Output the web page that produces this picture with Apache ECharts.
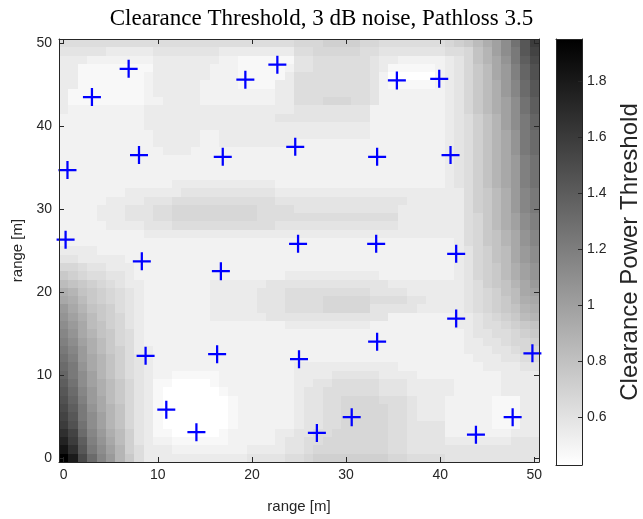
<!DOCTYPE html>
<html><head><meta charset="utf-8">
<script src="https://cdn.jsdelivr.net/npm/echarts@6/dist/echarts.min.js"></script>
<style>html,body{margin:0;padding:0;background:#fff}#c{width:643px;height:519px}</style>
</head><body><div id="c"></div>
<script>
const chartTitle = 'Clearance Threshold, 3 dB noise, Pathloss 3.5';
const xLabel = 'range [m]';
const yLabel = 'range [m]';
const cbLabel = 'Clearance Power Threshold';
const xTicks = [0, 10, 20, 30, 40, 50];
const yTicks = [0, 10, 20, 30, 40, 50];
const cbTicks = [0.6, 0.8, 1, 1.2, 1.4, 1.6, 1.8];
const cbMin = 0.43, cbMax = 1.95;
// each char is a threshold level: value = levelBase + index * levelStep
const levelChars = '0123456789abcdefghijklmnopqrstuvwxyzABC';
const levelBase = 0.43, levelStep = 0.04;
// rows from y = 50 (top) down to y = 0; cells x = 0..50 ("c:n" = n cells of level c)
const gridRows = [
  "5:25 6:3 7:4 6:2 5:7 678acehlpt",
  "4:5 3:5 4:7 3:8 5:2 6:5 5:2 4:7 5569behkps",
  "3:3 2:7 3:7 2:2 1:6 4:2 5:6 4 3:2 2:5 3469bdgkor",
  "3:2 1:8 3:6 2:3 1:5 2 4:2 5:6 4 3 1:5 2 3468adfjnq",
  "3:2 1:7 2 3:6 2:3 1:5 3 5:8 4 2 0:5 2 3468adfjnq",
  "3:2 1:7 2 3:5 2:4 1:4 3:2 5:8 4 2 1:5 2 3468acfimp",
  "3 1:8 2 3:5 2:8 3:2 5:8 4 2:7 3468acfimp",
  "3 1:8 2:2 3:4 2:8 3:2 5:3 6:3 5:2 4 2:7 3468acehlo",
  "3 2:8 3:16 4:8 2:8 3468acehlo",
  "2:9 3:14 4:10 2:8 34579behkn",
  "2:9 3:24 2:8 34579behkn",
  "2:10 3:5 2:2 3:16 2:8 34579bdgkm",
  "2:10 3:5 2:2 3:8 2:16 34579bdgkm",
  "2:11 3:3 2:27 34579bdgkm",
  "2:41 34579bdfjl",
  "2:41 34579bdfjl",
  "2:41 34579bdfjl",
  "2:12 3:11 2:18 34579bdfjl",
  "2:7 3:6 4:10 3:18 33578acfik",
  "2:5 3:4 4:3 5:11 4:14 3:4 33578acfik",
  "2:4 3:3 4:3 5:2 6:9 5:4 4:11 3:5 33578acfik",
  "2:4 3:3 4:3 5:2 6:9 5:15 3:5 33568acehj",
  "2:5 3:4 4:3 5:11 4:13 3:5 33568acehj",
  "2:9 3:32 335689bdgi",
  "2:41 235689bdgi",
  "3:4 2:37 234679adfh",
  "4433333 2:34 234679adfh",
  "665443332 2:32 234678aceg",
  "8765544322 2:14 3:10 2:7 234678aceg",
  "a987654332 2:6 3:6 4:13 3:6 3345789bdf",
  "cb98765432 2:6 3:5 4:3 5:9 4:4 3:4 3345679ade",
  "dca8765432 2:6 3:5 4:3 5:4 6:5 5:4 4:2 3:2 3345678acd",
  "fdb9875432 2:6 3:5 4:3 5:4 6:5 4:5 3:3 33456789bc",
  "geca876432 2:6 3:6 4:13 2:6 23345678ab",
  "hfda976432 2:14 3:9 2:8 2334556789",
  "igdb986532 2:31 2234455678",
  "jheca86532 2:31 2233445667",
  "kifca87533 2:31 2233344566",
  "ljfdb97543 2:31 2223334455",
  "mkgdb97543 2:15 3:11 2:5 2222333344",
  "nkheb97543 2:2 1:5 2:8 3:4 4:5 3:4 2:3 2222223333",
  "olheca8643 1:2 0:4 1 2:8 3:2 4:2 5:5 4:3 3:4 3222223333",
  "pmifca8643 1 0:6 1 2:7 3 4:2 5:6 4:3 3:4 3222223333",
  "qnjfda8643 1 0:7 1 2:6 3 4:2 5:2 6:4 5:3 4 3:3 2222211133",
  "rokgdb9643 1 0:7 1 2:6 3 4:2 5:2 6:5 5:2 4 3:3 2222211133",
  "spkheb9643 1 0:7 1 2:6 3 4:2 5:2 6:5 5:2 4 3:3 2222211133",
  "tqlheb9643 1 0:7 1 2:6 3 4:2 5:2 6:5 5:2 4:4 2222211133",
  "vsmifca743 1:2 0:5 1 2:5 3:2 4:2 5:2 6:6 5:2 4:4 2222222333",
  "xtojgda743 2:2 1:6 2:5 3 4:2 5:2 6:7 5:2 4:4 3333333444",
  "zvpkheb753 3:2 2:8 3:4 4:2 5 6:8 5:2 4:4 4444444444",
  "Cyrmifb853 3:10 4:4 5:2 6 7:8 6:2 5:4 4444444444"
];
// sensor positions (blue crosses)
const markerX = [6.9, 3.0, 19.3, 22.7, 35.4, 39.9, 8.0, 16.9, 24.6, 33.3, 41.1, 0.4, 0.2, 8.3, 16.7, 24.9, 33.2, 41.7, 41.7, 8.7, 16.3, 25.0, 33.3, 49.8, 10.9, 14.1, 26.9, 30.6, 43.8, 47.7];
const markerY = [46.9, 43.5, 45.6, 47.4, 45.5, 45.7, 36.5, 36.3, 37.5, 36.3, 36.5, 34.7, 26.3, 23.7, 22.5, 25.8, 25.8, 24.6, 16.8, 12.3, 12.5, 11.9, 14.0, 12.6, 5.8, 3.1, 3.0, 4.9, 2.8, 4.9];

function decodeRow(spec) {
  return spec.split(' ').map(function (t) {
    if (t.indexOf(':') >= 0) { const p = t.split(':'); return p[0].repeat(+p[1]); }
    return t;
  }).join('');
}
const cells = [];
gridRows.forEach(function (spec, r) {
  const s = decodeRow(spec);
  const y = 50 - r;
  for (let x = 0; x < s.length; x++) {
    const k = levelChars.indexOf(s[x]);
    cells.push([x, y, +(levelBase + k * levelStep).toFixed(3)]);
  }
});
const markers = markerX.map(function (x, i) { return [x, markerY[i]]; });

const axisColor = '#262626';
const sans = 'Liberation Sans, Arial, Helvetica, sans-serif';
const lineStyle = { color: axisColor, width: 1 };

function frameAxis(extra) {
  return Object.assign({
    type: 'value', z: 10,
    axisLine: { show: true, onZero: false, lineStyle: lineStyle },
    axisTick: { show: false },
    axisLabel: { show: false },
    splitLine: { show: false }
  }, extra);
}

const chart = echarts.init(document.getElementById('c'), null, { renderer: 'canvas' });
chart.setOption({
  animation: false,
  backgroundColor: '#ffffff',
  title: {
    text: chartTitle, left: 'center', top: 2,
    textStyle: { fontFamily: 'Liberation Serif, DejaVu Serif, serif', fontSize: 23, fontWeight: 'normal', color: '#000' }
  },
  grid: [
    { left: 59, top: 39, width: 480, height: 426 },
    { left: 556, top: 39, width: 27, height: 426 }
  ],
  xAxis: [
    frameAxis({
      gridIndex: 0, min: -0.5, max: 50.5, position: 'bottom',
      axisTick: { show: true, inside: true, length: 5, customValues: xTicks, lineStyle: lineStyle },
      axisLabel: { show: true, customValues: xTicks, color: axisColor, fontSize: 14, fontFamily: sans, margin: 6 },
      name: xLabel, nameLocation: 'middle', nameGap: 37,
      nameTextStyle: { color: axisColor, fontSize: 15, fontFamily: sans }
    }),
    frameAxis({
      gridIndex: 0, min: -0.5, max: 50.5, position: 'top',
      axisTick: { show: true, inside: true, length: 5, customValues: xTicks, lineStyle: lineStyle }
    }),
    frameAxis({ gridIndex: 1, min: 0, max: 1, position: 'bottom' }),
    frameAxis({ gridIndex: 1, min: 0, max: 1, position: 'top' })
  ],
  yAxis: [
    frameAxis({
      gridIndex: 0, min: -0.5, max: 50.5, position: 'left',
      axisTick: { show: true, inside: true, length: 5, customValues: yTicks, lineStyle: lineStyle },
      axisLabel: { show: true, customValues: yTicks, color: axisColor, fontSize: 14, fontFamily: sans, margin: 7 },
      name: yLabel, nameLocation: 'middle', nameGap: 27, nameRotate: 90,
      nameTextStyle: { color: axisColor, fontSize: 15, fontFamily: sans }
    }),
    frameAxis({
      gridIndex: 0, min: -0.5, max: 50.5, position: 'right',
      axisTick: { show: true, inside: true, length: 5, customValues: yTicks, lineStyle: lineStyle }
    }),
    frameAxis({
      gridIndex: 1, min: cbMin, max: cbMax, position: 'right',
      axisTick: { show: true, inside: true, length: 4, customValues: cbTicks, lineStyle: lineStyle },
      axisLabel: { show: true, customValues: cbTicks, color: axisColor, fontSize: 14, fontFamily: sans, margin: 5 },
      name: cbLabel, nameLocation: 'middle', nameGap: 36, nameRotate: 90,
      nameTextStyle: { color: axisColor, fontSize: 24, fontFamily: sans }
    }),
    frameAxis({ gridIndex: 1, min: cbMin, max: cbMax, position: 'left' })
  ],
  visualMap: {
    type: 'continuous', show: false, seriesIndex: 0, dimension: 2,
    min: cbMin, max: cbMax, inRange: { color: ['#ffffff', '#000000'] }
  },
  series: [
    {
      type: 'custom', xAxisIndex: 0, yAxisIndex: 0, z: 2,
      encode: { x: 0, y: 1 },
      data: cells,
      renderItem: function (params, api) {
        const x = api.value(0), y = api.value(1);
        const p1 = api.coord([x - 0.5, y + 0.5]);
        const p2 = api.coord([x + 0.5, y - 0.5]);
        const x0 = Math.round(p1[0]), y0 = Math.round(p1[1]);
        const x1 = Math.round(p2[0]), y1 = Math.round(p2[1]);
        return { type: 'rect', shape: { x: x0, y: y0, width: x1 - x0, height: y1 - y0 },
                 style: { fill: api.visual('color') } };
      }
    },
    {
      type: 'custom', xAxisIndex: 2, yAxisIndex: 2, z: 2,
      data: [[0.5, (cbMin + cbMax) / 2]],
      renderItem: function (params, api) {
        const p1 = api.coord([0, cbMax]);
        const p2 = api.coord([1, cbMin]);
        return { type: 'rect', shape: { x: p1[0], y: p1[1], width: p2[0] - p1[0], height: p2[1] - p1[1] },
                 style: { fill: new echarts.graphic.LinearGradient(0, 0, 0, 1, [
                   { offset: 0, color: '#000000' }, { offset: 1, color: '#ffffff' }]) } };
      }
    },
    {
      type: 'scatter', xAxisIndex: 0, yAxisIndex: 0, z: 5,
      data: markers,
      symbol: 'path://M-1.25,-10H1.25V-1.25H10V1.25H1.25V10H-1.25V1.25H-10V-1.25H-1.25Z',
      symbolSize: 18,
      itemStyle: { color: '#0000ff', opacity: 1 },
      emphasis: { disabled: true }
    }
  ]
});
</script>
</body></html>
